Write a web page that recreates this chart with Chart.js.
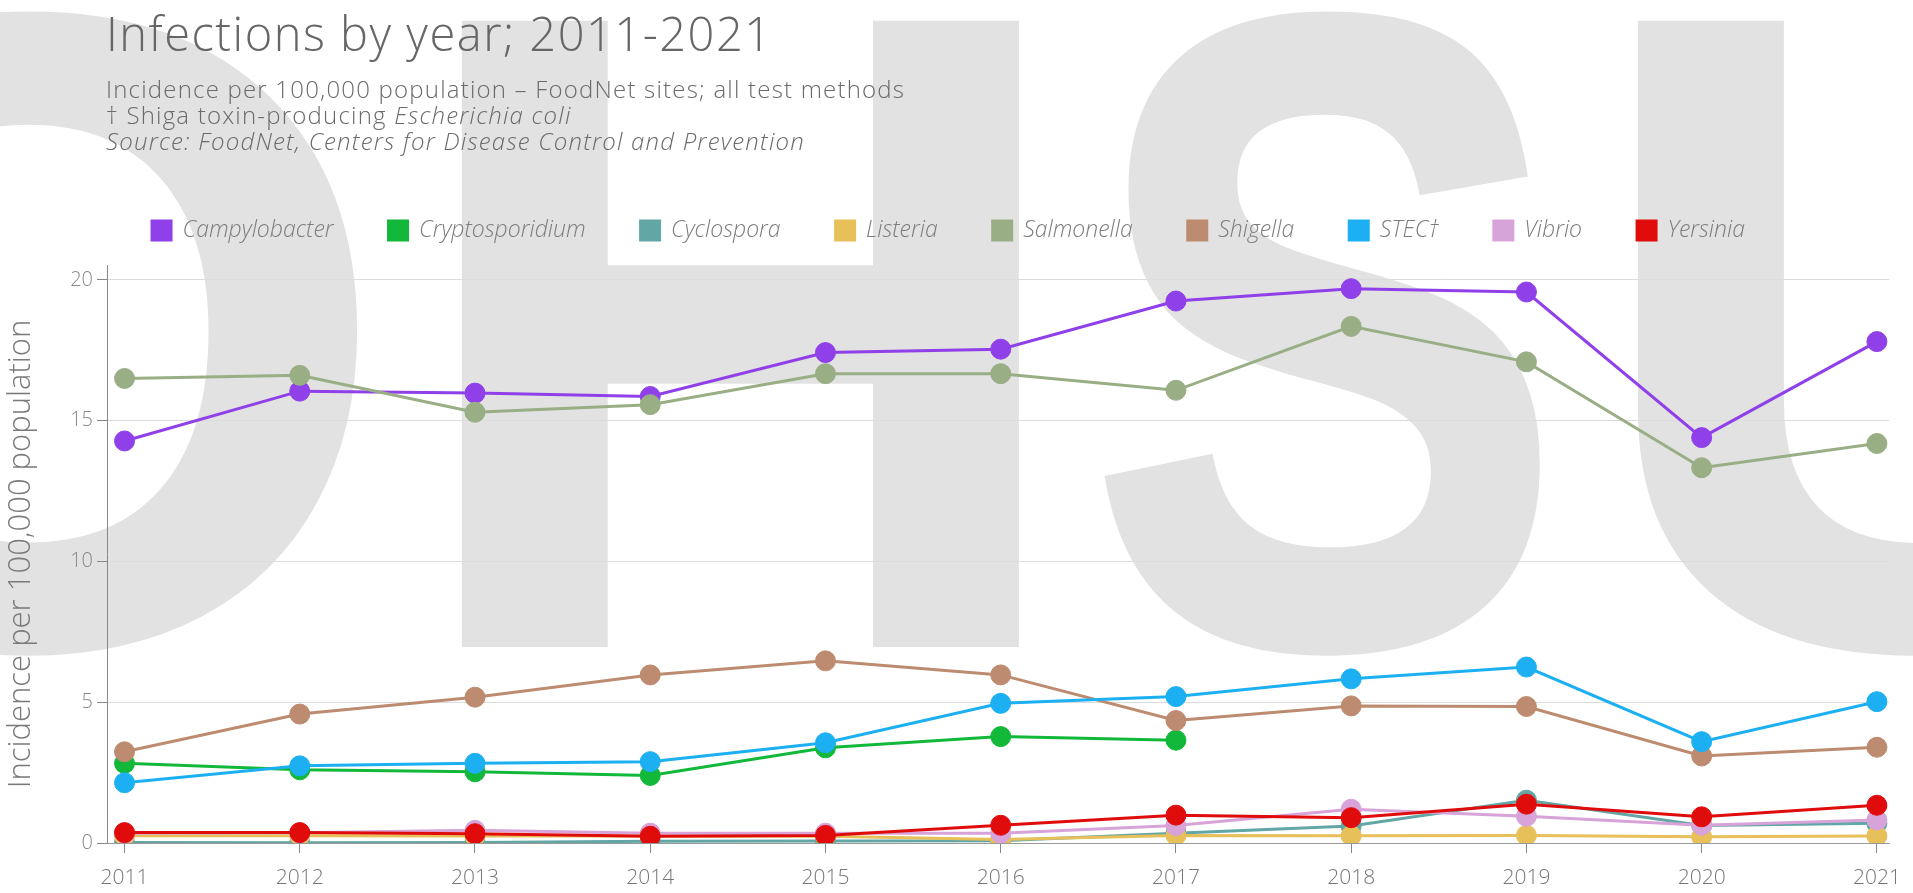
<!DOCTYPE html>
<html>
<head>
<meta charset="utf-8">
<title>Infections by year; 2011-2021</title>
<script src="https://cdn.jsdelivr.net/npm/chart.js@4.4.1/dist/chart.umd.min.js"></script>
<style>
  html, body { margin: 0; padding: 0; background: #fff; }
  #wrap { position: relative; width: 1913px; height: 893px; overflow: hidden; }
  #myChart { position: absolute; left: 0; top: 0; z-index: 1; }
  .head { position: absolute; left: 106px; z-index: 2; color: #666; font-family: "Open Sans", sans-serif; white-space: nowrap; }
  .title { top: 10px; font-size: 47px; line-height: 1; font-weight: 300; letter-spacing: 1.5px; }
  .sub { top: 76px; font-size: 24px; line-height: 26px; font-weight: 300; letter-spacing: 1.2px; color: #6a6a6a; }
</style>
</head>
<body>
<div id="wrap">
  <canvas id="myChart" width="1913" height="893"></canvas>
  <div class="head title">Infections by year; 2011-2021</div>
  <div class="head sub">
    Incidence per 100,000 population – FoodNet sites; all test methods<br>
    † Shiga toxin-producing <i>Escherichia coli</i><br>
    <i>Source: FoodNet, Centers for Disease Control and Prevention</i>
  </div>
</div>
<script>
const years = [2011, 2012, 2013, 2014, 2015, 2016, 2017, 2018, 2019, 2020, 2021];
const yTicks = [0, 5, 10, 15, 20];

const campylobacter = [14.28, 16.05, 15.98, 15.86, 17.42, 17.54, 19.25, 19.69, 19.57, 14.4, 17.81];
const cryptosporidium = [2.83, 2.6, 2.53, 2.4, 3.38, 3.78, 3.65, null, null, null, null];
const cyclospora = [0.02, 0.01, 0.02, 0.06, 0.07, 0.08, 0.35, 0.6, 1.52, 0.62, 0.7];
const listeria = [0.26, 0.26, 0.25, 0.25, 0.24, 0.12, 0.27, 0.26, 0.27, 0.22, 0.25];
const salmonella = [16.5, 16.61, 15.3, 15.57, 16.67, 16.67, 16.08, 18.35, 17.09, 13.33, 14.19];
const shigella = [3.24, 4.58, 5.18, 5.97, 6.47, 5.97, 4.35, 4.87, 4.85, 3.09, 3.4];
const stec = [2.14, 2.74, 2.83, 2.89, 3.56, 4.96, 5.2, 5.83, 6.25, 3.6, 5.02];
const vibrio = [0.35, 0.36, 0.45, 0.35, 0.35, 0.35, 0.62, 1.2, 0.95, 0.63, 0.82];
const yersinia = [0.37, 0.37, 0.33, 0.24, 0.27, 0.63, 0.99, 0.9, 1.38, 0.93, 1.34];

const series = [
  { label: 'Campylobacter', data: campylobacter, color: '#8f40e8' },
  { label: 'Cryptosporidium', data: cryptosporidium, color: '#12b83a' },
  { label: 'Cyclospora', data: cyclospora, color: '#62a6a6' },
  { label: 'Listeria', data: listeria, color: '#e7c05a' },
  { label: 'Salmonella', data: salmonella, color: '#99ae85' },
  { label: 'Shigella', data: shigella, color: '#bd8b6f' },
  { label: 'STEC†', data: stec, color: '#1cb0f2' },
  { label: 'Vibrio', data: vibrio, color: '#d7a3d8' },
  { label: 'Yersinia', data: yersinia, color: '#e00b0b' },
];

// big grey OHSU letters behind everything, slightly fattened with a stroke
const watermark = {
  id: 'watermark',
  beforeDraw(chart) {
    const ctx = chart.ctx;
    const t = 6;
    const baseline = 647 - t;
    const face = '"Liberation Sans", Arial, sans-serif';
    ctx.save();
    ctx.fillStyle = '#e2e2e2';
    ctx.strokeStyle = '#e2e2e2';
    ctx.lineWidth = t * 2;
    ctx.lineJoin = 'miter';
    ctx.textAlign = 'left';
    ctx.textBaseline = 'alphabetic';
    ctx.font = `bold 100px ${face}`;
    const size = (100 * (637 - 2 * t)) / ctx.measureText('H').actualBoundingBoxAscent;
    ctx.font = `bold ${size}px ${face}`;
    const box = (ch) => {
      const m = ctx.measureText(ch);
      return { off: m.actualBoundingBoxLeft, w: m.actualBoundingBoxLeft + m.actualBoundingBoxRight };
    };
    const h = box('H');
    const o = box('O');
    const s = box('S');
    const u = box('U');
    const sx = 550 / h.w;
    const sS = 443 / s.w;
    const letters = [
      ['O', o, 364 - o.w * sx, sx],
      ['H', h, 458 + t, sx],
      ['S', s, 1095 + t, sS],
      ['U', u, 1626 + t, sx],
    ];
    letters.forEach(([ch, b, left, k]) => {
      ctx.save();
      ctx.translate(left, baseline);
      ctx.scale(k, 1);
      ctx.fillText(ch, b.off, 0);
      ctx.strokeText(ch, b.off, 0);
      ctx.restore();
    });
    ctx.restore();
  },
};

// extra room between the legend and the plot
const legendGap = {
  id: 'legendGap',
  beforeInit(chart) {
    const fit = chart.legend.fit;
    chart.legend.fit = function () {
      fit.call(this);
      this.height += 13;
    };
  },
};

const ctx = document.getElementById('myChart');

new Chart(ctx, {
  type: 'line',
  data: {
    labels: years,
    datasets: series.map((s, i) => ({
      label: s.label,
      data: s.data,
      borderColor: s.color,
      backgroundColor: s.color,
      pointBackgroundColor: s.color,
      pointBorderColor: s.color,
      borderWidth: 3,
      pointRadius: 10,
      pointBorderWidth: 1,
      tension: 0,
      spanGaps: false,
      order: series.length - i,
    })),
  },
  options: {
    responsive: false,
    animation: false,
    layout: {
      padding: { top: 164, left: 2, right: 18, bottom: 0 },
    },
    plugins: {
      tooltip: { enabled: false },
      legend: {
        position: 'top',
        labels: {
          sort: (a, b) => a.datasetIndex - b.datasetIndex,
          boxWidth: 19,
          boxHeight: 19,
          padding: 55,
          color: '#7d7d7d',
          font: { family: '"Open Sans", sans-serif', size: 23, style: 'italic', weight: 300 },
        },
      },
    },
    scales: {
      x: {
        type: 'linear',
        min: 2010.9,
        max: 2021.07,
        afterBuildTicks: (scale) => {
          scale.ticks = years.map((v) => ({ value: v }));
        },
        afterFit: (scale) => {
          scale.height = 50;
        },
        ticks: {
          callback: (v) => String(v),
          color: '#777',
          padding: 12,
          maxRotation: 0,
          font: { family: '"Open Sans", sans-serif', size: 21, weight: 300 },
        },
        grid: {
          drawOnChartArea: false,
          drawTicks: true,
          tickLength: 10,
          tickColor: '#888',
        },
        border: { display: true, color: '#999', width: 1 },
      },
      y: {
        min: 0,
        max: 20.53,
        afterBuildTicks: (scale) => {
          scale.ticks = yTicks.map((v) => ({ value: v }));
        },
        afterFit: (scale) => {
          scale.width = 105;
        },
        ticks: {
          color: '#888',
          padding: 4,
          font: { family: '"Open Sans", sans-serif', size: 20, weight: 300 },
        },
        grid: {
          color: '#dcdcdc',
          tickColor: '#888',
          tickLength: 10,
        },
        border: { display: true, color: '#888', width: 1 },
        title: {
          display: true,
          text: 'Incidence per 100,000 population',
          color: '#7a7a7a',
          padding: { top: 1, bottom: 10 },
          font: { family: '"Open Sans", sans-serif', size: 31, weight: 300 },
        },
      },
    },
  },
  plugins: [watermark, legendGap],
});
</script>
</body>
</html>
